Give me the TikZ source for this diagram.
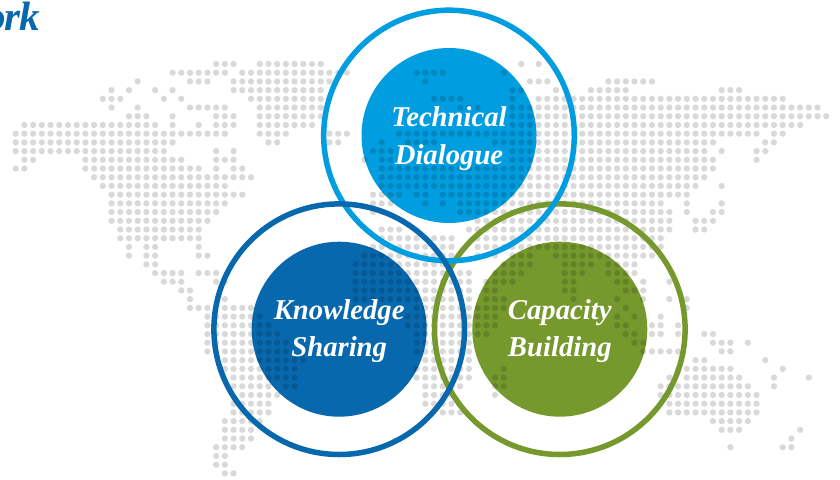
\documentclass[tikz,border=0pt]{standalone}
\usepackage{fontspec}
\setmainfont{Liberation Serif}
\definecolor{cyanc}{HTML}{009EE0}
\definecolor{bluec}{HTML}{0868AE}
\definecolor{greenc}{HTML}{76992E}
\tikzset{
  ringc/.style={draw=#1,line width=5.5pt,fill=none},
  discc/.style={fill=#1,draw=none},
  lab/.style={text=white,font=\fontsize{28.7}{37.5}\selectfont\bfseries\itshape,align=center,inner sep=0pt},
}
\begin{document}
\begin{tikzpicture}[x=1pt,y=-1pt]
\useasboundingbox (0,0) rectangle (840,479);
\fill[white] (0,0) rectangle (840,479);
\node[anchor=base east,text=bluec,font=\fontsize{41}{41}\selectfont\bfseries\itshape,inner sep=0pt] (head) at (40,30) {o\kern-1.5pt r\kern-1.5pt k};
\coordinate (tc) at (449,135.5);
\coordinate (kc) at (339.2,329.2);
\coordinate (cc) at (559.8,329.2);
\fill[discc=cyanc] (tc) circle (87.5);
\fill[discc=bluec] (kc) circle (87.5);
\fill[discc=greenc] (cc) circle (87.5);
\foreach \r/\l in {
0/{23/25,28/35,58,60},
1/{18/24,26/38,46/49,56},
2/{14,20/22,25/36,47,59/61,68/73},
3/{11,13,16,18,25/35,57,58,62,66/70,81/83},
4/{10/12,17,19,27/35,48/51,57,60/88},
5/{11,14,20/24,28/35,51/53,57/92},
6/{13/15,18,23/25,28/35,57/93},
7/{1/16,18,21,23/25,28/34,57/90},
8/{0/24,28/31,36/38,44/85,87,88},
9/{0/18,29,30,36,37,42,45/48,55/80,86,87},
10/{0/17,23,25,41/43,57/79,81,85,86},
11/{1,2,8/19,23/25,40,42,43,47,48,57/80,85},
12/{0,1,8/21,23,25,26,42/80},
13/{9/27,42/79},
14/{10/24,42/78,81},
15/{11/26,41/44,46,47,49/77},
16/{11/24,41/43,47,49,51/74,77,81},
17/{11/23,41,42,51/75,77,80,81},
18/{11/22,53/75,78/80},
19/{12/21,42/44,52/75,78,79},
20/{12/21,42/50,53/74},
21/{13,15,16,21,41/50,53/74},
22/{13,15,16,21,22,40/50,53/55,57/59,62/73},
23/{15,16,39/50,56/59,63/66,68/71},
24/{16/19,21/23,39/52,55/58,63/65,68/71},
25/{17/19,23,24,39/52,54/57,63,64,69,70,72,75},
26/{19,20,39/52,54,55,63,64,70,71,72},
27/{20,24,39/52,54/56,64,69,72,75,77},
28/{20/22,24/27,46/56,70,77},
29/{22/28,45/55,69,71,74},
30/{22/29,45/55,69,70,73,74,76},
31/{22/30,46/54,70,71,73,74,76,79,80},
32/{22/31,46/52,71,72,80/82,84},
33/{22,24/31,46/52,72/76,81,82},
34/{24/33,47/52,78,79,86},
35/{24/32,46/52,56,76/82,88},
36/{25/32,46/52,55,56,75,77/83,87,91},
37/{25/29,31,32,47/51,55,56,74/84,87},
38/{26/30,47/50,55,74/85},
39/{25/29,47/50,75/85},
40/{25/29,49/51,75/85},
41/{24/28,80/84},
42/{24/27,81/83,90},
43/{24/27,89},
44/{23/26,82,88,89},
45/{23,24},
46/{23,24},
47/{24,25}}{
  \foreach \a/\b in \l {
    \foreach \c in {\a,...,\b} {
      \fill[black,fill opacity=0.15] ({15.67+8.716*\c},{64+8.71*\r}) circle (3.15);
    }
  }
}
\draw[ringc=greenc] (cc) circle (125.3);
\draw[ringc=cyanc] (tc) circle (125.3);
\draw[ringc=bluec] (kc) circle (125.3);
\node[lab] (t) at (449,138.5) {Technical\\Dialogue};
\node[lab] (k) at (339.2,331.2) {Knowledge\\Sharing};
\node[lab] (c) at (559.8,331.2) {Capacity\\Building};
\end{tikzpicture}
\end{document}
